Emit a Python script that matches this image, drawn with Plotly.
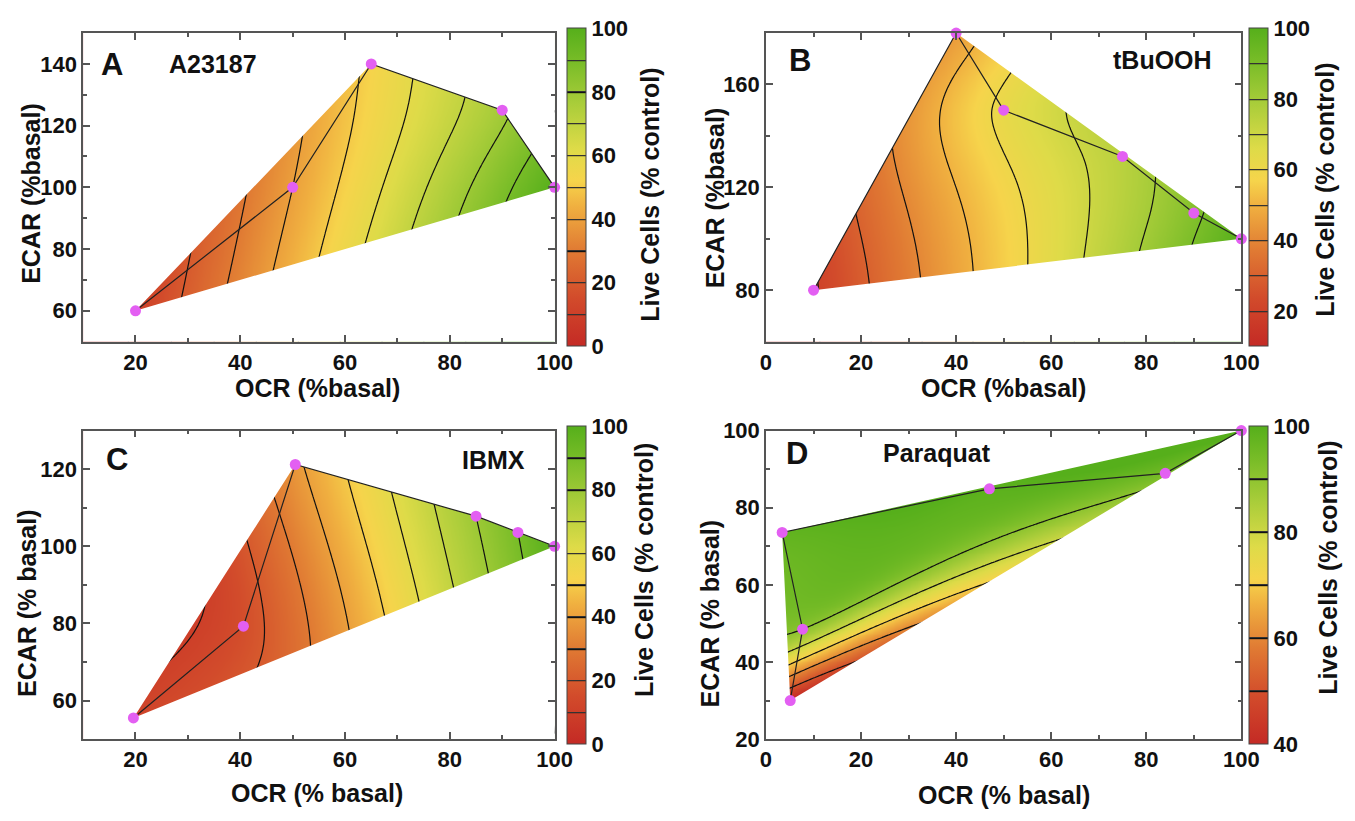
import numpy as np
import plotly.graph_objects as go

W, H = 1355, 821

# ---------------- data (listed from control outward, as in the trajectories) -------------
A_ocr = [100, 90, 65, 50, 20]
A_ecar = [100, 125, 140, 100, 60]
A_live = [100, 78, 52, 40, 10]

B_ocr = [100, 90, 75, 50, 40, 10]
B_ecar = [100, 110, 132, 150, 180, 80]
B_live = [100, 88, 75, 62, 45, 19]

C_ocr = [100, 93, 85, 50.5, 40.6, 19.6]
C_ecar = [100, 103.6, 107.8, 121.2, 79.3, 55.5]
C_live = [100, 90, 80, 38, 16, 12]

D_ocr = [100, 84, 47, 3.4, 7.7, 5.1]
D_ecar = [100, 88.9, 84.9, 73.6, 48.5, 30]
D_live = [100, 94, 99, 98, 90, 40]

names = ["A23187", "tBuOOH", "IBMX", "Paraquat"]
letters = ["A", "B", "C", "D"]
x_titles = ["OCR (%basal)", "OCR (%basal)", "OCR (% basal)", "OCR (% basal)"]
y_titles = ["ECAR (%basal)", "ECAR (%basal)", "ECAR (% basal)", "ECAR (% basal)"]
cb_title = "Live Cells (% control)"

# ---------------- styling / layout (pixel geometry) ----------------
x_ranges = [[10, 100], [0, 100], [10, 100], [0, 100]]
y_ranges = [[50, 150], [60, 180], [50, 130], [20, 100]]
y_dticks = [20, 40, 20, 20]
y_minor = [10, 20, 10, 10]
z_ranges = [[0, 100], [10, 100], [0, 100], [40, 100]]
# interpolation metric: angle of the compressed direction (deg), compression
metric = [(0, 1.0), (0, 1.0), (119, 2.0), (36.4, 4.5)]

px_x = [(78.5, 558.5), (773.7, 1257.6), (78.5, 558.5), (773.7, 1257.6)]
px_y = [(21.7, 340), (21.7, 340), (431.7, 750), (431.7, 750)]
cb_left = [571, 1265, 571, 1265]

colorscale = [
    [0.00, "#c42a25"], [0.15, "#d24b2b"], [0.30, "#e07a33"], [0.44, "#f0b040"],
    [0.52, "#f6d44b"], [0.62, "#dedb48"], [0.76, "#aacd3a"], [0.89, "#7abd28"],
    [1.00, "#56af1b"],
]

FONT = "Liberation Sans, Arial, sans-serif"


def tps_surface(xs, ys, zs, gx, gy, angle=0.0, squeeze=1.0):
    xs, ys, zs = map(lambda a: np.asarray(a, float), (xs, ys, zs))
    th = np.deg2rad(angle)
    c, s = np.cos(th), np.sin(th)

    def tf(X, Y):
        u = (X * c + Y * s) / squeeze
        v = -X * s + Y * c
        return u, v

    us, vs = tf(xs, ys)
    n = len(xs)

    def U(r):
        with np.errstate(divide="ignore", invalid="ignore"):
            val = r * r * np.log(r)
        return np.where(r > 0, val, 0.0)

    d = np.hypot(us[:, None] - us[None, :], vs[:, None] - vs[None, :])
    M = np.zeros((n + 3, n + 3))
    M[:n, :n] = U(d)
    P = np.column_stack([np.ones(n), us, vs])
    M[:n, n:] = P
    M[n:, :n] = P.T
    sol = np.linalg.solve(M, np.concatenate([zs, np.zeros(3)]))
    w, a = sol[:n], sol[n:]
    GX, GY = np.meshgrid(gx, gy)
    GU, GV = tf(GX, GY)
    Z = a[0] + a[1] * GU + a[2] * GV
    for i in range(n):
        Z += w[i] * U(np.hypot(GU - us[i], GV - vs[i]))
    return Z


def convex_hull(xs, ys):
    pts = sorted(set(zip(xs, ys)))

    def cross(o, a, b):
        return (a[0] - o[0]) * (b[1] - o[1]) - (a[1] - o[1]) * (b[0] - o[0])

    lower, upper = [], []
    for p in pts:
        while len(lower) >= 2 and cross(lower[-2], lower[-1], p) <= 0:
            lower.pop()
        lower.append(p)
    for p in reversed(pts):
        while len(upper) >= 2 and cross(upper[-2], upper[-1], p) <= 0:
            upper.pop()
        upper.append(p)
    return lower[:-1] + upper[:-1]  # counter-clockwise


fig = go.Figure()
datasets = [(A_ocr, A_ecar, A_live), (B_ocr, B_ecar, B_live),
            (C_ocr, C_ecar, C_live), (D_ocr, D_ecar, D_live)]

layout_axes = {}
annotations = []


def ann(text, x, y, size, angle=0, xanchor="center"):
    annotations.append(dict(
        text=text, x=x / W, y=1 - y / H, xref="paper", yref="paper",
        showarrow=False, textangle=angle, xanchor=xanchor, yanchor="middle",
        font=dict(family=FONT, size=size, color="#111", weight="bold")))


for k, (ocr, ecar, live) in enumerate(datasets):
    sfx = "" if k == 0 else str(k + 1)
    xa, ya = "x" + sfx, "y" + sfx
    xr, yr, zr = x_ranges[k], y_ranges[k], z_ranges[k]

    gx = np.linspace(xr[0], xr[1], 181)
    gy = np.linspace(yr[0], yr[1], 161)
    Z = tps_surface(ocr, ecar, live, gx, gy, *metric[k])
    Z = np.round(Z, 2)

    cb_y = 1 - (px_y[k][0] + px_y[k][1]) / 2 / H
    tickvals = list(range(int(zr[0]), int(zr[1]) + 1, 10))
    ticktext = [str(v) if v % 20 == 0 else "" for v in tickvals]

    fig.add_trace(go.Contour(
        x=gx, y=gy, z=Z, xaxis=xa, yaxis=ya,
        zmin=zr[0], zmax=zr[1], zauto=False,
        colorscale=colorscale,
        contours=dict(coloring="heatmap", start=zr[0] + 10, end=zr[1] - 5, size=10),
        line=dict(color="#111", width=1.2),
        hoverinfo="skip",
        colorbar=dict(
            x=cb_left[k] / W, xanchor="left", xpad=0, ypad=0,
            y=cb_y, yanchor="middle", len=318.3, lenmode="pixels",
            thickness=19, thicknessmode="pixels",
            outlinewidth=1, outlinecolor="#444",
            tickmode="array", tickvals=tickvals, ticktext=ticktext,
            ticks="inside", ticklen=19, tickwidth=1.2, tickcolor="#333",
            tickfont=dict(family=FONT, size=22, color="#111", weight="bold"),
        ),
    ))

    # white mask outside the convex hull of the measured points
    hull = convex_hull(ocr, ecar)
    x0, x1 = xr[0] - 10, xr[1] + 10
    y0, y1 = yr[0] - 10, yr[1] + 10
    mx = [x0, x0, x1, x1, x0] + [p[0] for p in hull] + [hull[0][0], x0]
    my = [y0, y1, y1, y0, y0] + [p[1] for p in hull] + [hull[0][1], y0]
    fig.add_trace(go.Scatter(
        x=mx, y=my, xaxis=xa, yaxis=ya, mode="lines", fill="toself",
        fillcolor="white", line=dict(width=0, color="white"),
        hoverinfo="skip", showlegend=False))

    # treatment trajectory and measured points
    fig.add_trace(go.Scatter(
        x=ocr, y=ecar, xaxis=xa, yaxis=ya, mode="lines+markers",
        line=dict(color="#222", width=1.2),
        marker=dict(color="#e35ff2", size=11),
        cliponaxis=False, hoverinfo="skip", showlegend=False))

    axis_common = dict(
        showline=True, linecolor="#555", linewidth=1.5, mirror="allticks",
        ticks="inside", ticklen=7, tickwidth=1.5, tickcolor="#555",
        showgrid=False, zeroline=False,
        tickfont=dict(family=FONT, size=22, color="#111", weight="bold"),
    )
    layout_axes["xaxis" + sfx] = dict(
        axis_common, domain=[px_x[k][0] / W, px_x[k][1] / W], anchor=ya,
        range=xr, dtick=20, tick0=0,
        minor=dict(dtick=10, tick0=0, ticks="inside", ticklen=4, tickcolor="#555",
                   showgrid=False))
    layout_axes["yaxis" + sfx] = dict(
        axis_common, domain=[1 - px_y[k][1] / H, 1 - px_y[k][0] / H], anchor=xa,
        range=yr, dtick=y_dticks[k], tick0=0,
        minor=dict(dtick=y_minor[k], tick0=0, ticks="inside", ticklen=4,
                   tickcolor="#555", showgrid=False))

# ---------------- text ----------------
letter_pos = [(108, 54), (808, 50), (113, 462), (805, 455)]
name_pos = [(211, 54), (1177, 49), (496, 462), (948, 455)]
xt_pos = [(317, 388), (1015, 388), (317, 806), (1016, 808)]
yt_pos = [(26, 187), (722, 192), (22, 610), (717, 620)]
cbt_pos = [(656, 188), (1343, 183), (650, 575), (1345, 573)]

for k in range(4):
    ann(letters[k], *letter_pos[k], 31)
    ann(names[k], *name_pos[k], 25)
    ann(x_titles[k], *xt_pos[k], 25)
    ann(y_titles[k], *yt_pos[k], 25, angle=-90)
    ann(cb_title, *cbt_pos[k], 25, angle=-90)

fig.update_layout(
    width=W, height=H, margin=dict(l=0, r=0, t=0, b=0),
    paper_bgcolor="white", plot_bgcolor="white",
    showlegend=False, annotations=annotations, **layout_axes,
)

fig.write_html("out.html", config={"displayModeBar": False},
               post_script="document.body.style.margin='0px';document.body.style.overflow='hidden';")
